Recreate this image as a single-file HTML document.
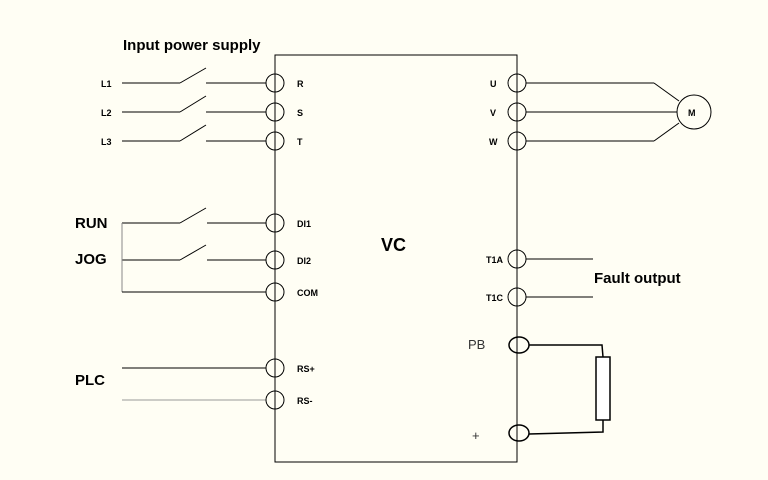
<!DOCTYPE html>
<html><head><style>
html,body{margin:0;padding:0;background:#fffef4;}
svg{display:block}
</style></head><body>
<svg width="768" height="480" viewBox="0 0 768 480" xmlns="http://www.w3.org/2000/svg">
<rect width="768" height="480" fill="#fffef4"/>
<g stroke="#000" stroke-width="1" fill="none">
<rect x="275" y="55" width="242" height="407"/>
<!-- L1-L3 -->
<line x1="122" y1="83" x2="180" y2="83"/><line x1="180" y1="83" x2="206" y2="68"/><line x1="206" y1="83" x2="266" y2="83"/>
<line x1="122" y1="112" x2="180" y2="112"/><line x1="180" y1="112" x2="206" y2="96"/><line x1="206" y1="112" x2="266" y2="112"/>
<line x1="122" y1="141" x2="180" y2="141"/><line x1="180" y1="141" x2="206" y2="125"/><line x1="206" y1="141" x2="266" y2="141"/>
<!-- RUN JOG COM -->
<line x1="122" y1="223" x2="180" y2="223"/><line x1="180" y1="223" x2="206" y2="208"/><line x1="207" y1="223" x2="266" y2="223"/>
<line x1="122" y1="260" x2="180" y2="260"/><line x1="180" y1="260" x2="206" y2="245"/><line x1="207" y1="260" x2="266" y2="260"/>
<line x1="122" y1="223" x2="122" y2="292" stroke="#888"/>
<line x1="122" y1="292" x2="266" y2="292"/>
<line x1="122" y1="368" x2="266" y2="368"/>
<line x1="122" y1="400" x2="266" y2="400" stroke="#999"/>
<!-- left circles -->
<circle cx="275" cy="83" r="9"/><circle cx="275" cy="112" r="9"/><circle cx="275" cy="141" r="9"/>
<circle cx="275" cy="223" r="9"/><circle cx="275" cy="260" r="9"/><circle cx="275" cy="292" r="9"/>
<circle cx="275" cy="368" r="9"/><circle cx="275" cy="400" r="9"/>
<!-- right circles -->
<circle cx="517" cy="83" r="9"/><circle cx="517" cy="112" r="9"/><circle cx="517" cy="141" r="9"/>
<circle cx="517" cy="259" r="9"/><circle cx="517" cy="297" r="9"/>
<!-- motor -->
<line x1="526" y1="83" x2="654" y2="83"/><line x1="654" y1="83" x2="679" y2="101"/>
<line x1="526" y1="112" x2="677" y2="112"/>
<line x1="526" y1="141" x2="654" y2="141"/><line x1="654" y1="141" x2="679" y2="123"/>
<circle cx="694" cy="112" r="17"/>
<line x1="526" y1="259" x2="593" y2="259"/><line x1="526" y1="297" x2="593" y2="297"/>
<!-- resistor -->
<g stroke-width="1.5">
<ellipse cx="519" cy="345" rx="10" ry="8"/><ellipse cx="519" cy="433" rx="10" ry="8"/>
<polyline points="529,345 602,345 603,357"/>
<rect x="596" y="357" width="14" height="63" fill="#fff"/>
<polyline points="603,420 603,432 529,434"/>
</g>
</g>
<g font-family="Liberation Sans, sans-serif" font-size="9" font-weight="bold" fill="#000">
<text x="101" y="87">L1</text><text x="101" y="116">L2</text><text x="101" y="145">L3</text>
<text x="297" y="87">R</text><text x="297" y="116">S</text><text x="297" y="145">T</text>
<text x="297" y="227">DI1</text><text x="297" y="264">DI2</text><text x="297" y="296">COM</text>
<text x="297" y="372">RS+</text><text x="297" y="404">RS-</text>
<text x="490" y="87">U</text><text x="490" y="116">V</text><text x="489" y="145">W</text>
<text x="486" y="263">T1A</text><text x="486" y="301">T1C</text>
<text x="688" y="116">M</text>
</g>
<g font-family="Liberation Sans, sans-serif" font-size="15" font-weight="bold" fill="#000">
<text x="123" y="50">Input power supply</text>
<text x="75" y="228">RUN</text><text x="75" y="264">JOG</text><text x="75" y="385">PLC</text>
<text x="594" y="283">Fault output</text>
<text x="381" y="251" font-size="18">VC</text>
</g>
<g font-family="Liberation Sans, sans-serif" font-size="13" fill="#333">
<text x="468" y="349">PB</text><text x="472" y="440">+</text>
</g>
</svg>
</body></html>
